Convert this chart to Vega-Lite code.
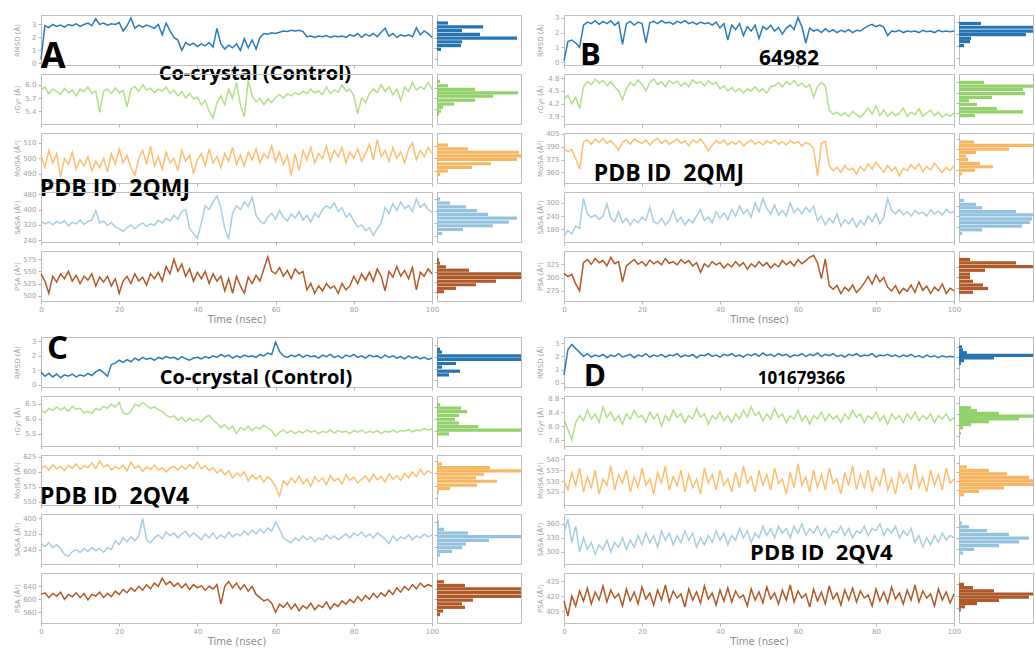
{
"$schema":"https://vega.github.io/schema/vega-lite/v6.json",
"background":"white",
"padding":{"left":12,"top":13,"right":0,"bottom":0},
"config":{
 "view":{"stroke":"#bdbdbd","strokeWidth":1},
 "axis":{"domain":false,"grid":false,"tickColor":"#b5b5b5","tickWidth":1,"labelColor":"#a0a0a0","labelFont":"DejaVu Sans","labelFontSize":7,"titleColor":"#a0a0a0","titleFont":"DejaVu Sans","titleFontSize":7,"titleFontWeight":"normal","labelOverlap":false,"labelFlush":false},
 "axisY":{"tickSize":3,"labelPadding":2,"minExtent":18,"maxExtent":18,"titlePadding":3},
 "axisX":{"tickSize":3,"labelPadding":1,"titlePadding":2},
 "line":{"strokeWidth":1.5}
},
"columns":5,
"spacing":{"row":9,"column":5},
"bounds":"flush",
"align":"each",
"concat":[
{"width":391,"height":50,"encoding":{"x":{"field":"t","type":"quantitative","scale":{"domain":[0,100],"nice":false},"axis":{"values":[0,20,40,60,80,100],"labels":false,"title":null}},"y":{"field":"v","type":"quantitative","scale":{"domain":[-0.13,3.73],"nice":false,"zero":false},"axis":{"values":[0,1,2,3],"title":"RMSD (Å)"}}},
 "layer":[{"data":{"name":"aR"},"mark":{"type":"line","color":"#2b7bba"}},
 {"data":{"values":[{"t":3.1,"v":0.5,"s":"A"}]},"mark":{"type":"text","font":"Open Sans","fontWeight":"bold","fontSize":36,"color":"#000","baseline":"middle"},"encoding":{"text":{"field":"s","type":"nominal"}}},
 {"data":{"values":[{"t":54.7,"v":-0.8,"s":"Co-crystal (Control)"}]},"mark":{"type":"text","font":"Open Sans","fontWeight":"bold","fontSize":20,"color":"#000","baseline":"middle"},"encoding":{"text":{"field":"s","type":"nominal"}}}]},
{"width":84,"height":50,"data":{"name":"aRh"},"mark":{"type":"bar","orient":"horizontal","size":3.2,"color":"#2675b2","clip":true},"encoding":{"y":{"field":"b","type":"quantitative","scale":{"domain":[-0.13,3.73],"nice":false,"zero":false},"axis":{"values":[0,1,2,3],"labels":false,"title":null}},"x":{"field":"c","type":"quantitative","scale":{"domain":[0,84],"nice":false},"axis":null}}},
{"width":33,"height":50,"data":{"values":[]},"mark":"point","view":{"stroke":null}},
{"width":390,"height":50,"encoding":{"x":{"field":"t","type":"quantitative","scale":{"domain":[0,100],"nice":false},"axis":{"values":[0,20,40,60,80,100],"labels":false,"title":null}},"y":{"field":"v","type":"quantitative","scale":{"domain":[-0.18,3.18],"nice":false,"zero":false},"axis":{"values":[0,1,2,3],"title":"RMSD (Å)"}}},
 "layer":[{"data":{"name":"bR"},"mark":{"type":"line","color":"#2b7bba"}},
 {"data":{"values":[{"t":6.8,"v":0.41,"s":"B"}]},"mark":{"type":"text","font":"Open Sans","fontWeight":"bold","fontSize":31,"color":"#000","baseline":"middle"},"encoding":{"text":{"field":"s","type":"nominal"}}},
 {"data":{"values":[{"t":57.7,"v":0.24,"s":"64982"}]},"mark":{"type":"text","font":"Open Sans","fontWeight":"bold","fontSize":21,"color":"#000","baseline":"middle"},"encoding":{"text":{"field":"s","type":"nominal"}}}]},
{"width":74,"height":50,"data":{"name":"bRh"},"mark":{"type":"bar","orient":"horizontal","size":3.2,"color":"#2675b2","clip":true},"encoding":{"y":{"field":"b","type":"quantitative","scale":{"domain":[-0.18,3.18],"nice":false,"zero":false},"axis":{"values":[0,1,2,3],"labels":false,"title":null}},"x":{"field":"c","type":"quantitative","scale":{"domain":[0,74],"nice":false},"axis":null}}},

{"width":391,"height":50,"data":{"name":"aG"},"mark":{"type":"line","color":"#b2df8a"},"encoding":{"x":{"field":"t","type":"quantitative","scale":{"domain":[0,100],"nice":false},"axis":{"values":[0,20,40,60,80,100],"labels":false,"title":null}},"y":{"field":"v","type":"quantitative","scale":{"domain":[5.12,6.24],"nice":false,"zero":false},"axis":{"values":[5.4,5.7,6.0],"format":".1f","title":"rGyr (Å)"}}}},
{"width":84,"height":50,"data":{"name":"aGh"},"mark":{"type":"bar","orient":"horizontal","size":3.2,"color":"#93d16a","clip":true},"encoding":{"y":{"field":"b","type":"quantitative","scale":{"domain":[5.12,6.24],"nice":false,"zero":false},"axis":{"values":[5.4,5.7,6.0],"labels":false,"title":null}},"x":{"field":"c","type":"quantitative","scale":{"domain":[0,84],"nice":false},"axis":null}}},
{"width":33,"height":50,"data":{"values":[]},"mark":"point","view":{"stroke":null}},
{"width":390,"height":50,"data":{"name":"bG"},"mark":{"type":"line","color":"#b2df8a"},"encoding":{"x":{"field":"t","type":"quantitative","scale":{"domain":[0,100],"nice":false},"axis":{"values":[0,20,40,60,80,100],"labels":false,"title":null}},"y":{"field":"v","type":"quantitative","scale":{"domain":[3.72,4.9],"nice":false,"zero":false},"axis":{"values":[3.9,4.2,4.5,4.8],"format":".1f","title":"rGyr (Å)"}}}},
{"width":74,"height":50,"data":{"name":"bGh"},"mark":{"type":"bar","orient":"horizontal","size":3.2,"color":"#93d16a","clip":true},"encoding":{"y":{"field":"b","type":"quantitative","scale":{"domain":[3.72,4.9],"nice":false,"zero":false},"axis":{"values":[3.9,4.2,4.5,4.8],"labels":false,"title":null}},"x":{"field":"c","type":"quantitative","scale":{"domain":[0,74],"nice":false},"axis":null}}},

{"width":391,"height":50,"encoding":{"x":{"field":"t","type":"quantitative","scale":{"domain":[0,100],"nice":false},"axis":{"values":[0,20,40,60,80,100],"labels":false,"title":null}},"y":{"field":"v","type":"quantitative","scale":{"domain":[484,516.3],"nice":false,"zero":false},"axis":{"values":[490,500,510],"title":"MolSA (Å²)"}}},
 "layer":[{"data":{"name":"aM"},"mark":{"type":"line","color":"#fdbf6f"}},
 {"data":{"values":[{"t":18.9,"v":480.1,"s":"PDB ID\u00a0 2QMJ"}]},"mark":{"type":"text","font":"Open Sans","fontWeight":"bold","fontSize":23,"color":"#000","baseline":"middle"},"encoding":{"text":{"field":"s","type":"nominal"}}}]},
{"width":84,"height":50,"data":{"name":"aMh"},"mark":{"type":"bar","orient":"horizontal","size":3.2,"color":"#f8b660","clip":true},"encoding":{"y":{"field":"b","type":"quantitative","scale":{"domain":[484,516.3],"nice":false,"zero":false},"axis":{"values":[490,500,510],"labels":false,"title":null}},"x":{"field":"c","type":"quantitative","scale":{"domain":[0,84],"nice":false},"axis":null}}},
{"width":33,"height":50,"data":{"values":[]},"mark":"point","view":{"stroke":null}},
{"width":390,"height":50,"encoding":{"x":{"field":"t","type":"quantitative","scale":{"domain":[0,100],"nice":false},"axis":{"values":[0,20,40,60,80,100],"labels":false,"title":null}},"y":{"field":"v","type":"quantitative","scale":{"domain":[347.7,406.1],"nice":false,"zero":false},"axis":{"values":[360,375,390,405],"title":"MolSA (Å²)"}}},
 "layer":[{"data":{"name":"bM"},"mark":{"type":"line","color":"#fdbf6f"}},
 {"data":{"values":[{"t":26.9,"v":357.8,"s":"PDB ID\u00a0 2QMJ"}]},"mark":{"type":"text","font":"Open Sans","fontWeight":"bold","fontSize":23,"color":"#000","baseline":"middle"},"encoding":{"text":{"field":"s","type":"nominal"}}}]},
{"width":74,"height":50,"data":{"name":"bMh"},"mark":{"type":"bar","orient":"horizontal","size":3.2,"color":"#f8b660","clip":true},"encoding":{"y":{"field":"b","type":"quantitative","scale":{"domain":[347.7,406.1],"nice":false,"zero":false},"axis":{"values":[360,375,390,405],"labels":false,"title":null}},"x":{"field":"c","type":"quantitative","scale":{"domain":[0,74],"nice":false},"axis":null}}},

{"width":391,"height":50,"data":{"name":"aS"},"mark":{"type":"line","color":"#a6cee3"},"encoding":{"x":{"field":"t","type":"quantitative","scale":{"domain":[0,100],"nice":false},"axis":{"values":[0,20,40,60,80,100],"labels":false,"title":null}},"y":{"field":"v","type":"quantitative","scale":{"domain":[231,491],"nice":false,"zero":false},"axis":{"values":[240,320,400,480],"title":"SASA (Å²)"}}}},
{"width":84,"height":50,"data":{"name":"aSh"},"mark":{"type":"bar","orient":"horizontal","size":3.2,"color":"#94c3df","clip":true},"encoding":{"y":{"field":"b","type":"quantitative","scale":{"domain":[231,491],"nice":false,"zero":false},"axis":{"values":[240,320,400,480],"labels":false,"title":null}},"x":{"field":"c","type":"quantitative","scale":{"domain":[0,84],"nice":false},"axis":null}}},
{"width":33,"height":50,"data":{"values":[]},"mark":"point","view":{"stroke":null}},
{"width":390,"height":50,"data":{"name":"bS"},"mark":{"type":"line","color":"#a6cee3"},"encoding":{"x":{"field":"t","type":"quantitative","scale":{"domain":[0,100],"nice":false},"axis":{"values":[0,20,40,60,80,100],"labels":false,"title":null}},"y":{"field":"v","type":"quantitative","scale":{"domain":[123,349],"nice":false,"zero":false},"axis":{"values":[180,240,300],"title":"SASA (Å²)"}}}},
{"width":74,"height":50,"data":{"name":"bSh"},"mark":{"type":"bar","orient":"horizontal","size":3.2,"color":"#94c3df","clip":true},"encoding":{"y":{"field":"b","type":"quantitative","scale":{"domain":[123,349],"nice":false,"zero":false},"axis":{"values":[180,240,300],"labels":false,"title":null}},"x":{"field":"c","type":"quantitative","scale":{"domain":[0,74],"nice":false},"axis":null}}},

{"width":391,"height":50,"data":{"name":"aP"},"mark":{"type":"line","color":"#b15928"},"encoding":{"x":{"field":"t","type":"quantitative","scale":{"domain":[0,100],"nice":false},"axis":{"values":[0,20,40,60,80,100],"title":"Time (nsec)","titleFontSize":10,"titleColor":"#8c8c8c"}},"y":{"field":"v","type":"quantitative","scale":{"domain":[489,592],"nice":false,"zero":false},"axis":{"values":[500,525,550,575],"title":"PSA (Å²)"}}}},
{"width":84,"height":50,"data":{"name":"aPh"},"mark":{"type":"bar","orient":"horizontal","size":3.2,"color":"#b05a2a","clip":true},"encoding":{"y":{"field":"b","type":"quantitative","scale":{"domain":[489,592],"nice":false,"zero":false},"axis":{"values":[500,525,550,575],"labels":false,"title":null}},"x":{"field":"c","type":"quantitative","scale":{"domain":[0,84],"nice":false},"axis":null}}},
{"width":33,"height":50,"data":{"values":[]},"mark":"point","view":{"stroke":null}},
{"width":390,"height":50,"data":{"name":"bP"},"mark":{"type":"line","color":"#b15928"},"encoding":{"x":{"field":"t","type":"quantitative","scale":{"domain":[0,100],"nice":false},"axis":{"values":[0,20,40,60,80,100],"title":"Time (nsec)","titleFontSize":10,"titleColor":"#8c8c8c"}},"y":{"field":"v","type":"quantitative","scale":{"domain":[256,350],"nice":false,"zero":false},"axis":{"values":[275,300,325],"title":"PSA (Å²)"}}}},
{"width":74,"height":50,"data":{"name":"bPh"},"mark":{"type":"bar","orient":"horizontal","size":3.2,"color":"#b05a2a","clip":true},"encoding":{"y":{"field":"b","type":"quantitative","scale":{"domain":[256,350],"nice":false,"zero":false},"axis":{"values":[275,300,325],"labels":false,"title":null}},"x":{"field":"c","type":"quantitative","scale":{"domain":[0,74],"nice":false},"axis":null}}},

{"width":391,"height":18,"data":{"values":[]},"mark":"point","view":{"stroke":null}},
{"width":84,"height":18,"data":{"values":[]},"mark":"point","view":{"stroke":null}},
{"width":33,"height":18,"data":{"values":[]},"mark":"point","view":{"stroke":null}},
{"width":390,"height":18,"data":{"values":[]},"mark":"point","view":{"stroke":null}},
{"width":74,"height":18,"data":{"values":[]},"mark":"point","view":{"stroke":null}},

{"width":391,"height":50,"encoding":{"x":{"field":"t","type":"quantitative","scale":{"domain":[0,100],"nice":false},"axis":{"values":[0,20,40,60,80,100],"labels":false,"title":null}},"y":{"field":"v","type":"quantitative","scale":{"domain":[-0.14,3.3],"nice":false,"zero":false},"axis":{"values":[0,1,2,3],"title":"RMSD (Å)"}}},
 "layer":[{"data":{"name":"cR"},"mark":{"type":"line","color":"#2b7bba"}},
 {"data":{"values":[{"t":4.2,"v":2.5,"s":"C"}]},"mark":{"type":"text","font":"Open Sans","fontWeight":"bold","fontSize":33,"color":"#000","baseline":"middle"},"encoding":{"text":{"field":"s","type":"nominal"}}},
 {"data":{"values":[{"t":55,"v":0.49,"s":"Co-crystal (Control)"}]},"mark":{"type":"text","font":"Open Sans","fontWeight":"bold","fontSize":20,"color":"#000","baseline":"middle"},"encoding":{"text":{"field":"s","type":"nominal"}}}]},
{"width":84,"height":50,"data":{"name":"cRh"},"mark":{"type":"bar","orient":"horizontal","size":3.2,"color":"#2675b2","clip":true},"encoding":{"y":{"field":"b","type":"quantitative","scale":{"domain":[-0.14,3.3],"nice":false,"zero":false},"axis":{"values":[0,1,2,3],"labels":false,"title":null}},"x":{"field":"c","type":"quantitative","scale":{"domain":[0,84],"nice":false},"axis":null}}},
{"width":33,"height":50,"data":{"values":[]},"mark":"point","view":{"stroke":null}},
{"width":390,"height":50,"encoding":{"x":{"field":"t","type":"quantitative","scale":{"domain":[0,100],"nice":false},"axis":{"values":[0,20,40,60,80,100],"labels":false,"title":null}},"y":{"field":"v","type":"quantitative","scale":{"domain":[-0.31,3.46],"nice":false,"zero":false},"axis":{"values":[0,1,2,3],"title":"RMSD (Å)"}}},
 "layer":[{"data":{"name":"dR"},"mark":{"type":"line","color":"#2b7bba"}},
 {"data":{"values":[{"t":7.9,"v":0.41,"s":"D"}]},"mark":{"type":"text","font":"Open Sans","fontWeight":"bold","fontSize":30,"color":"#000","baseline":"middle"},"encoding":{"text":{"field":"s","type":"nominal"}}},
 {"data":{"values":[{"t":60.9,"v":0.27,"s":"101679366"}]},"mark":{"type":"text","font":"Open Sans","fontWeight":"bold","fontSize":17,"color":"#000","baseline":"middle"},"encoding":{"text":{"field":"s","type":"nominal"}}}]},
{"width":74,"height":50,"data":{"name":"dRh"},"mark":{"type":"bar","orient":"horizontal","size":3.2,"color":"#2675b2","clip":true},"encoding":{"y":{"field":"b","type":"quantitative","scale":{"domain":[-0.31,3.46],"nice":false,"zero":false},"axis":{"values":[0,1,2,3],"labels":false,"title":null}},"x":{"field":"c","type":"quantitative","scale":{"domain":[0,74],"nice":false},"axis":null}}},

{"width":391,"height":50,"data":{"name":"cG"},"mark":{"type":"line","color":"#b2df8a"},"encoding":{"x":{"field":"t","type":"quantitative","scale":{"domain":[0,100],"nice":false},"axis":{"values":[0,20,40,60,80,100],"labels":false,"title":null}},"y":{"field":"v","type":"quantitative","scale":{"domain":[5.08,6.77],"nice":false,"zero":false},"axis":{"values":[5.5,6.0,6.5],"format":".1f","title":"rGyr (Å)"}}}},
{"width":84,"height":50,"data":{"name":"cGh"},"mark":{"type":"bar","orient":"horizontal","size":3.2,"color":"#93d16a","clip":true},"encoding":{"y":{"field":"b","type":"quantitative","scale":{"domain":[5.08,6.77],"nice":false,"zero":false},"axis":{"values":[5.5,6.0,6.5],"labels":false,"title":null}},"x":{"field":"c","type":"quantitative","scale":{"domain":[0,84],"nice":false},"axis":null}}},
{"width":33,"height":50,"data":{"values":[]},"mark":"point","view":{"stroke":null}},
{"width":390,"height":50,"data":{"name":"dG"},"mark":{"type":"line","color":"#b2df8a"},"encoding":{"x":{"field":"t","type":"quantitative","scale":{"domain":[0,100],"nice":false},"axis":{"values":[0,20,40,60,80,100],"labels":false,"title":null}},"y":{"field":"v","type":"quantitative","scale":{"domain":[7.43,8.86],"nice":false,"zero":false},"axis":{"values":[7.6,8.0,8.4,8.8],"format":".1f","title":"rGyr (Å)"}}}},
{"width":74,"height":50,"data":{"name":"dGh"},"mark":{"type":"bar","orient":"horizontal","size":3.2,"color":"#93d16a","clip":true},"encoding":{"y":{"field":"b","type":"quantitative","scale":{"domain":[7.43,8.86],"nice":false,"zero":false},"axis":{"values":[7.6,8.0,8.4,8.8],"labels":false,"title":null}},"x":{"field":"c","type":"quantitative","scale":{"domain":[0,74],"nice":false},"axis":null}}},

{"width":391,"height":50,"encoding":{"x":{"field":"t","type":"quantitative","scale":{"domain":[0,100],"nice":false},"axis":{"values":[0,20,40,60,80,100],"labels":false,"title":null}},"y":{"field":"v","type":"quantitative","scale":{"domain":[545,628],"nice":false,"zero":false},"axis":{"values":[550,575,600,625],"title":"MolSA (Å²)"}}},
 "layer":[{"data":{"name":"cM"},"mark":{"type":"line","color":"#fdbf6f"}},
 {"data":{"values":[{"t":18.8,"v":558.5,"s":"PDB ID\u00a0 2QV4"}]},"mark":{"type":"text","font":"Open Sans","fontWeight":"bold","fontSize":23,"color":"#000","baseline":"middle"},"encoding":{"text":{"field":"s","type":"nominal"}}}]},
{"width":84,"height":50,"data":{"name":"cMh"},"mark":{"type":"bar","orient":"horizontal","size":3.2,"color":"#f8b660","clip":true},"encoding":{"y":{"field":"b","type":"quantitative","scale":{"domain":[545,628],"nice":false,"zero":false},"axis":{"values":[550,575,600,625],"labels":false,"title":null}},"x":{"field":"c","type":"quantitative","scale":{"domain":[0,84],"nice":false},"axis":null}}},
{"width":33,"height":50,"data":{"values":[]},"mark":"point","view":{"stroke":null}},
{"width":390,"height":50,"data":{"name":"dM"},"mark":{"type":"line","color":"#fdbf6f"},"encoding":{"x":{"field":"t","type":"quantitative","scale":{"domain":[0,100],"nice":false},"axis":{"values":[0,20,40,60,80,100],"labels":false,"title":null}},"y":{"field":"v","type":"quantitative","scale":{"domain":[519,542],"nice":false,"zero":false},"axis":{"values":[525,530,535,540],"title":"MolSA (Å²)"}}}},
{"width":74,"height":50,"data":{"name":"dMh"},"mark":{"type":"bar","orient":"horizontal","size":3.2,"color":"#f8b660","clip":true},"encoding":{"y":{"field":"b","type":"quantitative","scale":{"domain":[519,542],"nice":false,"zero":false},"axis":{"values":[525,530,535,540],"labels":false,"title":null}},"x":{"field":"c","type":"quantitative","scale":{"domain":[0,74],"nice":false},"axis":null}}},

{"width":391,"height":50,"data":{"name":"cS"},"mark":{"type":"line","color":"#a6cee3"},"encoding":{"x":{"field":"t","type":"quantitative","scale":{"domain":[0,100],"nice":false},"axis":{"values":[0,20,40,60,80,100],"labels":false,"title":null}},"y":{"field":"v","type":"quantitative","scale":{"domain":[166,422],"nice":false,"zero":false},"axis":{"values":[240,320,400],"title":"SASA (Å²)"}}}},
{"width":84,"height":50,"data":{"name":"cSh"},"mark":{"type":"bar","orient":"horizontal","size":3.2,"color":"#94c3df","clip":true},"encoding":{"y":{"field":"b","type":"quantitative","scale":{"domain":[166,422],"nice":false,"zero":false},"axis":{"values":[240,320,400],"labels":false,"title":null}},"x":{"field":"c","type":"quantitative","scale":{"domain":[0,84],"nice":false},"axis":null}}},
{"width":33,"height":50,"data":{"values":[]},"mark":"point","view":{"stroke":null}},
{"width":390,"height":50,"encoding":{"x":{"field":"t","type":"quantitative","scale":{"domain":[0,100],"nice":false},"axis":{"values":[0,20,40,60,80,100],"labels":false,"title":null}},"y":{"field":"v","type":"quantitative","scale":{"domain":[274,381],"nice":false,"zero":false},"axis":{"values":[300,330,360],"title":"SASA (Å²)"}}},
 "layer":[{"data":{"name":"dS"},"mark":{"type":"line","color":"#a6cee3"}},
 {"data":{"values":[{"t":66,"v":298,"s":"PDB ID\u00a0 2QV4"}]},"mark":{"type":"text","font":"Open Sans","fontWeight":"bold","fontSize":22,"color":"#000","baseline":"middle"},"encoding":{"text":{"field":"s","type":"nominal"}}}]},
{"width":74,"height":50,"data":{"name":"dSh"},"mark":{"type":"bar","orient":"horizontal","size":3.2,"color":"#94c3df","clip":true},"encoding":{"y":{"field":"b","type":"quantitative","scale":{"domain":[274,381],"nice":false,"zero":false},"axis":{"values":[300,330,360],"labels":false,"title":null}},"x":{"field":"c","type":"quantitative","scale":{"domain":[0,74],"nice":false},"axis":null}}},

{"width":391,"height":50,"data":{"name":"cP"},"mark":{"type":"line","color":"#b15928"},"encoding":{"x":{"field":"t","type":"quantitative","scale":{"domain":[0,100],"nice":false},"axis":{"values":[0,20,40,60,80,100],"title":"Time (nsec)","titleFontSize":10,"titleColor":"#8c8c8c"}},"y":{"field":"v","type":"quantitative","scale":{"domain":[527,681],"nice":false,"zero":false},"axis":{"values":[560,600,640],"title":"PSA (Å²)"}}}},
{"width":84,"height":50,"data":{"name":"cPh"},"mark":{"type":"bar","orient":"horizontal","size":3.2,"color":"#b05a2a","clip":true},"encoding":{"y":{"field":"b","type":"quantitative","scale":{"domain":[527,681],"nice":false,"zero":false},"axis":{"values":[560,600,640],"labels":false,"title":null}},"x":{"field":"c","type":"quantitative","scale":{"domain":[0,84],"nice":false},"axis":null}}},
{"width":33,"height":50,"data":{"values":[]},"mark":"point","view":{"stroke":null}},
{"width":390,"height":50,"data":{"name":"dP"},"mark":{"type":"line","color":"#b15928"},"encoding":{"x":{"field":"t","type":"quantitative","scale":{"domain":[0,100],"nice":false},"axis":{"values":[0,20,40,60,80,100],"title":"Time (nsec)","titleFontSize":10,"titleColor":"#8c8c8c"}},"y":{"field":"v","type":"quantitative","scale":{"domain":[393,443],"nice":false,"zero":false},"axis":{"values":[405,420,435],"title":"PSA (Å²)"}}}},
{"width":74,"height":50,"data":{"name":"dPh"},"mark":{"type":"bar","orient":"horizontal","size":3.2,"color":"#b05a2a","clip":true},"encoding":{"y":{"field":"b","type":"quantitative","scale":{"domain":[393,443],"nice":false,"zero":false},"axis":{"values":[405,420,435],"labels":false,"title":null}},"x":{"field":"c","type":"quantitative","scale":{"domain":[0,74],"nice":false},"axis":null}}}
],
"datasets":{
"aR":[{"t":0,"v":0.3},{"t":1,"v":2.9},{"t":2,"v":2.75},{"t":3,"v":3.0},{"t":4,"v":2.85},{"t":5,"v":2.95},{"t":6,"v":2.8},{"t":7,"v":3.0},{"t":8,"v":2.9},{"t":9,"v":3.05},
{"t":10,"v":2.85},{"t":11,"v":3.0},{"t":12,"v":3.1},{"t":13,"v":2.9},{"t":14,"v":3.45},{"t":15,"v":3.0},{"t":16,"v":3.1},{"t":17,"v":2.95},{"t":18,"v":3.05},{"t":19,"v":3.0},
{"t":20,"v":3.15},{"t":21,"v":2.5},{"t":22,"v":2.9},{"t":23,"v":3.5},{"t":24,"v":2.7},{"t":25,"v":2.95},{"t":26,"v":2.8},{"t":27,"v":2.95},{"t":28,"v":2.85},{"t":29,"v":2.7},
{"t":30,"v":3.0},{"t":31,"v":2.2},{"t":32,"v":3.1},{"t":33,"v":2.5},{"t":34,"v":2.0},{"t":35,"v":1.8},{"t":36,"v":1.0},{"t":37,"v":1.6},{"t":38,"v":1.4},{"t":39,"v":1.55},
{"t":40,"v":1.3},{"t":41,"v":1.5},{"t":42,"v":1.35},{"t":43,"v":1.6},{"t":44,"v":1.25},{"t":45,"v":2.7},{"t":46,"v":1.5},{"t":47,"v":1.1},{"t":48,"v":1.4},{"t":49,"v":1.2},
{"t":50,"v":1.5},{"t":51,"v":1.0},{"t":52,"v":1.9},{"t":53,"v":1.2},{"t":54,"v":1.8},{"t":55,"v":1.1},{"t":56,"v":2.0},{"t":57,"v":2.3},{"t":58,"v":2.25},{"t":59,"v":2.35},
{"t":60,"v":2.3},{"t":61,"v":2.4},{"t":62,"v":2.5},{"t":63,"v":2.45},{"t":64,"v":2.55},{"t":65,"v":2.5},{"t":66,"v":2.55},{"t":67,"v":2.45},{"t":68,"v":2.05},{"t":69,"v":2.1},
{"t":70,"v":2.0},{"t":71,"v":2.1},{"t":72,"v":2.05},{"t":73,"v":2.15},{"t":74,"v":2.0},{"t":75,"v":2.1},{"t":76,"v":2.05},{"t":77,"v":2.1},{"t":78,"v":2.0},{"t":79,"v":2.2},
{"t":80,"v":2.1},{"t":81,"v":2.3},{"t":82,"v":2.0},{"t":83,"v":2.25},{"t":84,"v":2.1},{"t":85,"v":2.3},{"t":86,"v":2.05},{"t":87,"v":2.4},{"t":88,"v":2.7},{"t":89,"v":2.1},
{"t":90,"v":2.3},{"t":91,"v":2.0},{"t":92,"v":2.2},{"t":93,"v":2.1},{"t":94,"v":2.2},{"t":95,"v":2.05},{"t":96,"v":2.75},{"t":97,"v":2.2},{"t":98,"v":2.5},{"t":99,"v":2.3},{"t":100,"v":2.0}],
"aG":[{"t":0,"v":5.88},{"t":1,"v":5.95},{"t":2,"v":5.8},{"t":3,"v":5.9},{"t":4,"v":5.85},{"t":5,"v":5.78},{"t":6,"v":5.92},{"t":7,"v":5.82},{"t":8,"v":5.88},{"t":9,"v":5.75},
{"t":10,"v":5.9},{"t":11,"v":5.84},{"t":12,"v":5.95},{"t":13,"v":5.8},{"t":14,"v":5.86},{"t":15,"v":5.38},{"t":16,"v":5.85},{"t":17,"v":5.9},{"t":18,"v":5.8},{"t":19,"v":5.93},
{"t":20,"v":5.82},{"t":21,"v":5.87},{"t":22,"v":5.5},{"t":23,"v":5.9},{"t":24,"v":5.96},{"t":25,"v":5.85},{"t":26,"v":6.0},{"t":27,"v":5.88},{"t":28,"v":5.92},{"t":29,"v":5.82},
{"t":30,"v":5.9},{"t":31,"v":5.85},{"t":32,"v":5.95},{"t":33,"v":5.8},{"t":34,"v":5.88},{"t":35,"v":5.75},{"t":36,"v":5.85},{"t":37,"v":5.7},{"t":38,"v":5.8},{"t":39,"v":5.68},
{"t":40,"v":5.72},{"t":41,"v":5.55},{"t":42,"v":5.65},{"t":43,"v":5.4},{"t":44,"v":5.25},{"t":45,"v":5.6},{"t":46,"v":5.75},{"t":47,"v":5.55},{"t":48,"v":5.9},{"t":49,"v":5.7},
{"t":50,"v":6.05},{"t":51,"v":5.55},{"t":52,"v":5.28},{"t":53,"v":6.1},{"t":54,"v":5.75},{"t":55,"v":5.62},{"t":56,"v":5.7},{"t":57,"v":5.55},{"t":58,"v":5.68},{"t":59,"v":5.6},
{"t":60,"v":5.72},{"t":61,"v":5.78},{"t":62,"v":5.7},{"t":63,"v":5.8},{"t":64,"v":5.75},{"t":65,"v":5.82},{"t":66,"v":5.78},{"t":67,"v":5.85},{"t":68,"v":5.8},{"t":69,"v":5.9},
{"t":70,"v":5.82},{"t":71,"v":5.86},{"t":72,"v":5.78},{"t":73,"v":5.95},{"t":74,"v":5.8},{"t":75,"v":5.88},{"t":76,"v":5.83},{"t":77,"v":6.0},{"t":78,"v":5.85},{"t":79,"v":5.9},
{"t":80,"v":5.75},{"t":81,"v":5.35},{"t":82,"v":5.7},{"t":83,"v":5.6},{"t":84,"v":5.8},{"t":85,"v":5.9},{"t":86,"v":5.82},{"t":87,"v":6.0},{"t":88,"v":5.85},{"t":89,"v":5.95},
{"t":90,"v":5.78},{"t":91,"v":5.9},{"t":92,"v":5.65},{"t":93,"v":5.95},{"t":94,"v":5.85},{"t":95,"v":6.05},{"t":96,"v":5.88},{"t":97,"v":5.95},{"t":98,"v":5.9},{"t":99,"v":6.05},{"t":100,"v":5.9}],
"aM":[{"t":0,"v":502},{"t":1,"v":494},{"t":2,"v":505},{"t":3,"v":497},{"t":4,"v":503},{"t":5,"v":488},{"t":6,"v":500},{"t":7,"v":496},{"t":8,"v":504},{"t":9,"v":493},
{"t":10,"v":499},{"t":11,"v":495},{"t":12,"v":501},{"t":13,"v":492},{"t":14,"v":498},{"t":15,"v":494},{"t":16,"v":500},{"t":17,"v":491},{"t":18,"v":503},{"t":19,"v":496},
{"t":20,"v":506},{"t":21,"v":497},{"t":22,"v":502},{"t":23,"v":494},{"t":24,"v":489},{"t":25,"v":500},{"t":26,"v":505},{"t":27,"v":496},{"t":28,"v":508},{"t":29,"v":495},
{"t":30,"v":501},{"t":31,"v":493},{"t":32,"v":504},{"t":33,"v":497},{"t":34,"v":500},{"t":35,"v":492},{"t":36,"v":505},{"t":37,"v":498},{"t":38,"v":502},{"t":39,"v":490},
{"t":40,"v":499},{"t":41,"v":503},{"t":42,"v":495},{"t":43,"v":506},{"t":44,"v":497},{"t":45,"v":501},{"t":46,"v":494},{"t":47,"v":503},{"t":48,"v":498},{"t":49,"v":507},
{"t":50,"v":496},{"t":51,"v":502},{"t":52,"v":495},{"t":53,"v":504},{"t":54,"v":499},{"t":55,"v":506},{"t":56,"v":497},{"t":57,"v":503},{"t":58,"v":500},{"t":59,"v":508},
{"t":60,"v":498},{"t":61,"v":504},{"t":62,"v":496},{"t":63,"v":502},{"t":64,"v":489},{"t":65,"v":503},{"t":66,"v":492},{"t":67,"v":505},{"t":68,"v":499},{"t":69,"v":507},
{"t":70,"v":497},{"t":71,"v":503},{"t":72,"v":500},{"t":73,"v":508},{"t":74,"v":498},{"t":75,"v":505},{"t":76,"v":501},{"t":77,"v":507},{"t":78,"v":497},{"t":79,"v":504},
{"t":80,"v":500},{"t":81,"v":506},{"t":82,"v":498},{"t":83,"v":503},{"t":84,"v":509},{"t":85,"v":499},{"t":86,"v":512},{"t":87,"v":501},{"t":88,"v":505},{"t":89,"v":498},
{"t":90,"v":507},{"t":91,"v":500},{"t":92,"v":504},{"t":93,"v":497},{"t":94,"v":506},{"t":95,"v":510},{"t":96,"v":499},{"t":97,"v":505},{"t":98,"v":501},{"t":99,"v":507},{"t":100,"v":503}],
"aS":[{"t":0,"v":340},{"t":1,"v":325},{"t":2,"v":335},{"t":3,"v":320},{"t":4,"v":338},{"t":5,"v":328},{"t":6,"v":342},{"t":7,"v":315},{"t":8,"v":333},{"t":9,"v":325},
{"t":10,"v":345},{"t":11,"v":322},{"t":12,"v":338},{"t":13,"v":345},{"t":14,"v":395},{"t":15,"v":330},{"t":16,"v":340},{"t":17,"v":318},{"t":18,"v":332},{"t":19,"v":310},
{"t":20,"v":300},{"t":21,"v":285},{"t":22,"v":305},{"t":23,"v":320},{"t":24,"v":300},{"t":25,"v":318},{"t":26,"v":330},{"t":27,"v":312},{"t":28,"v":325},{"t":29,"v":318},
{"t":30,"v":345},{"t":31,"v":330},{"t":32,"v":355},{"t":33,"v":340},{"t":34,"v":370},{"t":35,"v":350},{"t":36,"v":390},{"t":37,"v":400},{"t":38,"v":300},{"t":39,"v":275},
{"t":40,"v":250},{"t":41,"v":330},{"t":42,"v":420},{"t":43,"v":400},{"t":44,"v":440},{"t":45,"v":470},{"t":46,"v":410},{"t":47,"v":300},{"t":48,"v":250},{"t":49,"v":380},
{"t":50,"v":420},{"t":51,"v":400},{"t":52,"v":440},{"t":53,"v":415},{"t":54,"v":465},{"t":55,"v":370},{"t":56,"v":340},{"t":57,"v":325},{"t":58,"v":360},{"t":59,"v":380},
{"t":60,"v":350},{"t":61,"v":395},{"t":62,"v":360},{"t":63,"v":340},{"t":64,"v":375},{"t":65,"v":355},{"t":66,"v":390},{"t":67,"v":345},{"t":68,"v":370},{"t":69,"v":335},
{"t":70,"v":380},{"t":71,"v":360},{"t":72,"v":400},{"t":73,"v":420},{"t":74,"v":405},{"t":75,"v":435},{"t":76,"v":390},{"t":77,"v":410},{"t":78,"v":360},{"t":79,"v":380},
{"t":80,"v":340},{"t":81,"v":310},{"t":82,"v":320},{"t":83,"v":290},{"t":84,"v":305},{"t":85,"v":265},{"t":86,"v":300},{"t":87,"v":330},{"t":88,"v":410},{"t":89,"v":380},
{"t":90,"v":430},{"t":91,"v":395},{"t":92,"v":440},{"t":93,"v":405},{"t":94,"v":420},{"t":95,"v":390},{"t":96,"v":455},{"t":97,"v":410},{"t":98,"v":430},{"t":99,"v":400},{"t":100,"v":385}],
"aP":[{"t":0,"v":545},{"t":1,"v":530},{"t":2,"v":505},{"t":3,"v":540},{"t":4,"v":528},{"t":5,"v":545},{"t":6,"v":535},{"t":7,"v":550},{"t":8,"v":530},{"t":9,"v":542},
{"t":10,"v":525},{"t":11,"v":540},{"t":12,"v":532},{"t":13,"v":545},{"t":14,"v":520},{"t":15,"v":538},{"t":16,"v":528},{"t":17,"v":540},{"t":18,"v":520},{"t":19,"v":535},
{"t":20,"v":505},{"t":21,"v":530},{"t":22,"v":540},{"t":23,"v":525},{"t":24,"v":545},{"t":25,"v":530},{"t":26,"v":538},{"t":27,"v":522},{"t":28,"v":545},{"t":29,"v":535},
{"t":30,"v":548},{"t":31,"v":530},{"t":32,"v":560},{"t":33,"v":545},{"t":34,"v":575},{"t":35,"v":550},{"t":36,"v":565},{"t":37,"v":540},{"t":38,"v":555},{"t":39,"v":530},
{"t":40,"v":548},{"t":41,"v":535},{"t":42,"v":550},{"t":43,"v":525},{"t":44,"v":545},{"t":45,"v":530},{"t":46,"v":540},{"t":47,"v":510},{"t":48,"v":535},{"t":49,"v":505},
{"t":50,"v":540},{"t":51,"v":520},{"t":52,"v":505},{"t":53,"v":538},{"t":54,"v":525},{"t":55,"v":542},{"t":56,"v":530},{"t":57,"v":555},{"t":58,"v":580},{"t":59,"v":550},
{"t":60,"v":545},{"t":61,"v":558},{"t":62,"v":540},{"t":63,"v":552},{"t":64,"v":535},{"t":65,"v":555},{"t":66,"v":545},{"t":67,"v":550},{"t":68,"v":512},{"t":69,"v":525},
{"t":70,"v":505},{"t":71,"v":520},{"t":72,"v":510},{"t":73,"v":525},{"t":74,"v":515},{"t":75,"v":520},{"t":76,"v":505},{"t":77,"v":525},{"t":78,"v":512},{"t":79,"v":520},
{"t":80,"v":540},{"t":81,"v":525},{"t":82,"v":545},{"t":83,"v":532},{"t":84,"v":548},{"t":85,"v":530},{"t":86,"v":555},{"t":87,"v":540},{"t":88,"v":510},{"t":89,"v":550},
{"t":90,"v":538},{"t":91,"v":560},{"t":92,"v":540},{"t":93,"v":552},{"t":94,"v":535},{"t":95,"v":558},{"t":96,"v":512},{"t":97,"v":548},{"t":98,"v":540},{"t":99,"v":555},{"t":100,"v":545}],
"bR":[{"t":0,"v":0.1},{"t":1,"v":1.4},{"t":2,"v":1.5},{"t":3,"v":1.3},{"t":4,"v":1.0},{"t":5,"v":2.5},{"t":6,"v":2.7},{"t":7,"v":2.6},{"t":8,"v":2.8},{"t":9,"v":2.55},
{"t":10,"v":2.75},{"t":11,"v":2.6},{"t":12,"v":2.8},{"t":13,"v":2.5},{"t":14,"v":2.7},{"t":15,"v":1.2},{"t":16,"v":2.6},{"t":17,"v":2.75},{"t":18,"v":2.5},{"t":19,"v":2.7},
{"t":20,"v":2.6},{"t":21,"v":1.3},{"t":22,"v":2.65},{"t":23,"v":2.75},{"t":24,"v":2.6},{"t":25,"v":2.8},{"t":26,"v":2.65},{"t":27,"v":2.7},{"t":28,"v":2.55},{"t":29,"v":2.75},
{"t":30,"v":2.65},{"t":31,"v":2.8},{"t":32,"v":2.6},{"t":33,"v":2.7},{"t":34,"v":2.55},{"t":35,"v":2.7},{"t":36,"v":2.6},{"t":37,"v":2.65},{"t":38,"v":2.5},{"t":39,"v":2.7},
{"t":40,"v":2.3},{"t":41,"v":2.6},{"t":42,"v":1.5},{"t":43,"v":2.5},{"t":44,"v":2.2},{"t":45,"v":2.6},{"t":46,"v":1.8},{"t":47,"v":2.4},{"t":48,"v":2.1},{"t":49,"v":2.5},
{"t":50,"v":1.6},{"t":51,"v":2.4},{"t":52,"v":2.2},{"t":53,"v":2.5},{"t":54,"v":2.1},{"t":55,"v":2.35},{"t":56,"v":1.9},{"t":57,"v":2.3},{"t":58,"v":2.5},{"t":59,"v":2.2},
{"t":60,"v":3.0},{"t":61,"v":2.4},{"t":62,"v":1.3},{"t":63,"v":2.3},{"t":64,"v":2.1},{"t":65,"v":2.2},{"t":66,"v":2.0},{"t":67,"v":2.25},{"t":68,"v":2.05},{"t":69,"v":2.2},
{"t":70,"v":2.0},{"t":71,"v":2.15},{"t":72,"v":2.05},{"t":73,"v":2.2},{"t":74,"v":2.0},{"t":75,"v":2.15},{"t":76,"v":2.1},{"t":77,"v":2.3},{"t":78,"v":2.45},{"t":79,"v":2.55},
{"t":80,"v":2.4},{"t":81,"v":2.5},{"t":82,"v":2.35},{"t":83,"v":1.8},{"t":84,"v":2.1},{"t":85,"v":2.05},{"t":86,"v":2.15},{"t":87,"v":2.0},{"t":88,"v":2.1},{"t":89,"v":2.05},
{"t":90,"v":2.1},{"t":91,"v":2.0},{"t":92,"v":2.15},{"t":93,"v":2.05},{"t":94,"v":2.1},{"t":95,"v":2.0},{"t":96,"v":2.15},{"t":97,"v":2.05},{"t":98,"v":2.1},{"t":99,"v":2.05},{"t":100,"v":2.1}],
"bG":[{"t":0,"v":4.3},{"t":1,"v":4.4},{"t":2,"v":4.2},{"t":3,"v":4.35},{"t":4,"v":4.08},{"t":5,"v":4.6},{"t":6,"v":4.72},{"t":7,"v":4.65},{"t":8,"v":4.78},{"t":9,"v":4.68},
{"t":10,"v":4.75},{"t":11,"v":4.62},{"t":12,"v":4.72},{"t":13,"v":4.6},{"t":14,"v":4.5},{"t":15,"v":4.3},{"t":16,"v":4.55},{"t":17,"v":4.7},{"t":18,"v":4.62},{"t":19,"v":4.76},
{"t":20,"v":4.66},{"t":21,"v":4.5},{"t":22,"v":4.7},{"t":23,"v":4.78},{"t":24,"v":4.65},{"t":25,"v":4.72},{"t":26,"v":4.6},{"t":27,"v":4.75},{"t":28,"v":4.67},{"t":29,"v":4.73},
{"t":30,"v":4.62},{"t":31,"v":4.7},{"t":32,"v":4.6},{"t":33,"v":4.76},{"t":34,"v":4.68},{"t":35,"v":4.72},{"t":36,"v":4.62},{"t":37,"v":4.74},{"t":38,"v":4.66},{"t":39,"v":4.7},
{"t":40,"v":4.55},{"t":41,"v":4.62},{"t":42,"v":4.5},{"t":43,"v":4.58},{"t":44,"v":4.48},{"t":45,"v":4.56},{"t":46,"v":4.45},{"t":47,"v":4.55},{"t":48,"v":4.5},{"t":49,"v":4.6},
{"t":50,"v":4.48},{"t":51,"v":4.55},{"t":52,"v":4.45},{"t":53,"v":4.6},{"t":54,"v":4.62},{"t":55,"v":4.7},{"t":56,"v":4.6},{"t":57,"v":4.72},{"t":58,"v":4.65},{"t":59,"v":4.75},
{"t":60,"v":4.62},{"t":61,"v":4.68},{"t":62,"v":4.58},{"t":63,"v":4.65},{"t":64,"v":4.35},{"t":65,"v":4.6},{"t":66,"v":4.7},{"t":67,"v":4.62},{"t":68,"v":4.05},{"t":69,"v":3.95},
{"t":70,"v":4.0},{"t":71,"v":3.92},{"t":72,"v":3.98},{"t":73,"v":3.9},{"t":74,"v":4.02},{"t":75,"v":3.94},{"t":76,"v":3.88},{"t":77,"v":3.98},{"t":78,"v":4.1},{"t":79,"v":3.95},
{"t":80,"v":4.15},{"t":81,"v":3.92},{"t":82,"v":4.05},{"t":83,"v":3.9},{"t":84,"v":4.0},{"t":85,"v":3.92},{"t":86,"v":3.97},{"t":87,"v":4.1},{"t":88,"v":3.9},{"t":89,"v":4.0},
{"t":90,"v":3.94},{"t":91,"v":4.08},{"t":92,"v":3.9},{"t":93,"v":3.98},{"t":94,"v":4.05},{"t":95,"v":3.92},{"t":96,"v":4.0},{"t":97,"v":3.88},{"t":98,"v":3.96},{"t":99,"v":3.9},{"t":100,"v":3.98}],
"bM":[{"t":0,"v":388},{"t":1,"v":384},{"t":2,"v":387},{"t":3,"v":376},{"t":4,"v":364},{"t":5,"v":396},{"t":6,"v":398},{"t":7,"v":393},{"t":8,"v":399},{"t":9,"v":395},
{"t":10,"v":400},{"t":11,"v":394},{"t":12,"v":397},{"t":13,"v":392},{"t":14,"v":386},{"t":15,"v":395},{"t":16,"v":398},{"t":17,"v":393},{"t":18,"v":399},{"t":19,"v":396},
{"t":20,"v":394},{"t":21,"v":398},{"t":22,"v":392},{"t":23,"v":397},{"t":24,"v":400},{"t":25,"v":394},{"t":26,"v":398},{"t":27,"v":393},{"t":28,"v":396},{"t":29,"v":399},
{"t":30,"v":394},{"t":31,"v":397},{"t":32,"v":391},{"t":33,"v":398},{"t":34,"v":395},{"t":35,"v":399},{"t":36,"v":393},{"t":37,"v":385},{"t":38,"v":392},{"t":39,"v":397},
{"t":40,"v":394},{"t":41,"v":398},{"t":42,"v":392},{"t":43,"v":396},{"t":44,"v":393},{"t":45,"v":397},{"t":46,"v":391},{"t":47,"v":395},{"t":48,"v":398},{"t":49,"v":393},
{"t":50,"v":396},{"t":51,"v":392},{"t":52,"v":397},{"t":53,"v":394},{"t":54,"v":398},{"t":55,"v":393},{"t":56,"v":396},{"t":57,"v":392},{"t":58,"v":397},{"t":59,"v":394},
{"t":60,"v":396},{"t":61,"v":391},{"t":62,"v":395},{"t":63,"v":393},{"t":64,"v":388},{"t":65,"v":356},{"t":66,"v":394},{"t":67,"v":396},{"t":68,"v":368},{"t":69,"v":362},
{"t":70,"v":366},{"t":71,"v":360},{"t":72,"v":368},{"t":73,"v":363},{"t":74,"v":365},{"t":75,"v":358},{"t":76,"v":367},{"t":77,"v":362},{"t":78,"v":370},{"t":79,"v":364},
{"t":80,"v":372},{"t":81,"v":366},{"t":82,"v":360},{"t":83,"v":368},{"t":84,"v":362},{"t":85,"v":366},{"t":86,"v":356},{"t":87,"v":365},{"t":88,"v":362},{"t":89,"v":369},
{"t":90,"v":364},{"t":91,"v":370},{"t":92,"v":361},{"t":93,"v":367},{"t":94,"v":363},{"t":95,"v":371},{"t":96,"v":365},{"t":97,"v":360},{"t":98,"v":366},{"t":99,"v":362},{"t":100,"v":368}],
"bS":[{"t":0,"v":150},{"t":1,"v":175},{"t":2,"v":160},{"t":3,"v":195},{"t":4,"v":185},{"t":5,"v":320},{"t":6,"v":250},{"t":7,"v":235},{"t":8,"v":245},{"t":9,"v":225},
{"t":10,"v":240},{"t":11,"v":295},{"t":12,"v":230},{"t":13,"v":215},{"t":14,"v":260},{"t":15,"v":210},{"t":16,"v":230},{"t":17,"v":200},{"t":18,"v":225},{"t":19,"v":210},
{"t":20,"v":235},{"t":21,"v":220},{"t":22,"v":280},{"t":23,"v":215},{"t":24,"v":205},{"t":25,"v":230},{"t":26,"v":200},{"t":27,"v":220},{"t":28,"v":265},{"t":29,"v":215},
{"t":30,"v":235},{"t":31,"v":200},{"t":32,"v":225},{"t":33,"v":210},{"t":34,"v":240},{"t":35,"v":270},{"t":36,"v":220},{"t":37,"v":235},{"t":38,"v":210},{"t":39,"v":260},
{"t":40,"v":230},{"t":41,"v":255},{"t":42,"v":225},{"t":43,"v":270},{"t":44,"v":240},{"t":45,"v":285},{"t":46,"v":250},{"t":47,"v":270},{"t":48,"v":235},{"t":49,"v":300},
{"t":50,"v":260},{"t":51,"v":320},{"t":52,"v":275},{"t":53,"v":250},{"t":54,"v":290},{"t":55,"v":245},{"t":56,"v":265},{"t":57,"v":240},{"t":58,"v":300},{"t":59,"v":255},
{"t":60,"v":275},{"t":61,"v":250},{"t":62,"v":280},{"t":63,"v":260},{"t":64,"v":285},{"t":65,"v":220},{"t":66,"v":240},{"t":67,"v":200},{"t":68,"v":230},{"t":69,"v":210},
{"t":70,"v":250},{"t":71,"v":195},{"t":72,"v":225},{"t":73,"v":205},{"t":74,"v":230},{"t":75,"v":190},{"t":76,"v":220},{"t":77,"v":200},{"t":78,"v":240},{"t":79,"v":215},
{"t":80,"v":250},{"t":81,"v":205},{"t":82,"v":235},{"t":83,"v":320},{"t":84,"v":265},{"t":85,"v":250},{"t":86,"v":270},{"t":87,"v":245},{"t":88,"v":260},{"t":89,"v":240},
{"t":90,"v":265},{"t":91,"v":250},{"t":92,"v":258},{"t":93,"v":240},{"t":94,"v":268},{"t":95,"v":250},{"t":96,"v":262},{"t":97,"v":245},{"t":98,"v":270},{"t":99,"v":255},{"t":100,"v":260}],
"bP":[{"t":0,"v":308},{"t":1,"v":302},{"t":2,"v":306},{"t":3,"v":288},{"t":4,"v":275},{"t":5,"v":328},{"t":6,"v":334},{"t":7,"v":325},{"t":8,"v":336},{"t":9,"v":328},
{"t":10,"v":332},{"t":11,"v":322},{"t":12,"v":338},{"t":13,"v":326},{"t":14,"v":330},{"t":15,"v":292},{"t":16,"v":322},{"t":17,"v":328},{"t":18,"v":334},{"t":19,"v":325},
{"t":20,"v":330},{"t":21,"v":322},{"t":22,"v":333},{"t":23,"v":326},{"t":24,"v":331},{"t":25,"v":324},{"t":26,"v":336},{"t":27,"v":327},{"t":28,"v":330},{"t":29,"v":324},
{"t":30,"v":334},{"t":31,"v":327},{"t":32,"v":332},{"t":33,"v":322},{"t":34,"v":328},{"t":35,"v":310},{"t":36,"v":326},{"t":37,"v":320},{"t":38,"v":330},{"t":39,"v":324},
{"t":40,"v":328},{"t":41,"v":318},{"t":42,"v":326},{"t":43,"v":320},{"t":44,"v":330},{"t":45,"v":322},{"t":46,"v":328},{"t":47,"v":316},{"t":48,"v":326},{"t":49,"v":320},
{"t":50,"v":330},{"t":51,"v":322},{"t":52,"v":328},{"t":53,"v":318},{"t":54,"v":326},{"t":55,"v":320},{"t":56,"v":332},{"t":57,"v":324},{"t":58,"v":330},{"t":59,"v":322},
{"t":60,"v":334},{"t":61,"v":326},{"t":62,"v":332},{"t":63,"v":338},{"t":64,"v":342},{"t":65,"v":328},{"t":66,"v":298},{"t":67,"v":335},{"t":68,"v":285},{"t":69,"v":278},
{"t":70,"v":285},{"t":71,"v":270},{"t":72,"v":282},{"t":73,"v":275},{"t":74,"v":286},{"t":75,"v":272},{"t":76,"v":280},{"t":77,"v":290},{"t":78,"v":302},{"t":79,"v":288},
{"t":80,"v":305},{"t":81,"v":292},{"t":82,"v":300},{"t":83,"v":282},{"t":84,"v":275},{"t":85,"v":285},{"t":86,"v":270},{"t":87,"v":280},{"t":88,"v":274},{"t":89,"v":286},
{"t":90,"v":272},{"t":91,"v":292},{"t":92,"v":276},{"t":93,"v":284},{"t":94,"v":270},{"t":95,"v":282},{"t":96,"v":275},{"t":97,"v":288},{"t":98,"v":270},{"t":99,"v":280},{"t":100,"v":275}],
"cR":[{"t":0,"v":0.9},{"t":1,"v":0.6},{"t":2,"v":0.8},{"t":3,"v":0.55},{"t":4,"v":0.75},{"t":5,"v":0.5},{"t":6,"v":0.7},{"t":7,"v":0.6},{"t":8,"v":0.75},{"t":9,"v":0.55},
{"t":10,"v":0.7},{"t":11,"v":0.6},{"t":12,"v":0.8},{"t":13,"v":0.65},{"t":14,"v":0.9},{"t":15,"v":1.05},{"t":16,"v":0.85},{"t":17,"v":0.6},{"t":18,"v":1.4},{"t":19,"v":1.5},
{"t":20,"v":1.7},{"t":21,"v":1.55},{"t":22,"v":1.75},{"t":23,"v":1.6},{"t":24,"v":1.85},{"t":25,"v":1.7},{"t":26,"v":1.9},{"t":27,"v":1.75},{"t":28,"v":1.85},{"t":29,"v":1.7},
{"t":30,"v":1.9},{"t":31,"v":1.8},{"t":32,"v":1.95},{"t":33,"v":1.85},{"t":34,"v":1.9},{"t":35,"v":1.75},{"t":36,"v":1.95},{"t":37,"v":1.8},{"t":38,"v":1.7},{"t":39,"v":1.85},
{"t":40,"v":1.9},{"t":41,"v":1.8},{"t":42,"v":1.95},{"t":43,"v":1.85},{"t":44,"v":2.0},{"t":45,"v":1.9},{"t":46,"v":2.1},{"t":47,"v":1.95},{"t":48,"v":2.05},{"t":49,"v":1.85},
{"t":50,"v":2.0},{"t":51,"v":1.9},{"t":52,"v":2.05},{"t":53,"v":1.95},{"t":54,"v":2.0},{"t":55,"v":1.9},{"t":56,"v":2.1},{"t":57,"v":2.0},{"t":58,"v":2.2},{"t":59,"v":2.1},
{"t":60,"v":2.95},{"t":61,"v":2.3},{"t":62,"v":2.0},{"t":63,"v":1.9},{"t":64,"v":2.05},{"t":65,"v":1.95},{"t":66,"v":2.1},{"t":67,"v":1.9},{"t":68,"v":2.05},{"t":69,"v":1.95},
{"t":70,"v":2.0},{"t":71,"v":1.85},{"t":72,"v":2.05},{"t":73,"v":1.95},{"t":74,"v":2.1},{"t":75,"v":1.9},{"t":76,"v":2.0},{"t":77,"v":1.85},{"t":78,"v":2.05},{"t":79,"v":1.95},
{"t":80,"v":2.1},{"t":81,"v":1.9},{"t":82,"v":2.0},{"t":83,"v":1.85},{"t":84,"v":2.05},{"t":85,"v":1.95},{"t":86,"v":2.0},{"t":87,"v":1.85},{"t":88,"v":2.05},{"t":89,"v":1.9},
{"t":90,"v":2.0},{"t":91,"v":1.85},{"t":92,"v":1.95},{"t":93,"v":1.8},{"t":94,"v":2.0},{"t":95,"v":1.85},{"t":96,"v":1.95},{"t":97,"v":1.8},{"t":98,"v":1.9},{"t":99,"v":1.75},{"t":100,"v":1.85}],
"cG":[{"t":0,"v":6.3},{"t":1,"v":6.2},{"t":2,"v":6.35},{"t":3,"v":6.28},{"t":4,"v":6.4},{"t":5,"v":6.3},{"t":6,"v":6.38},{"t":7,"v":6.25},{"t":8,"v":6.42},{"t":9,"v":6.32},
{"t":10,"v":6.36},{"t":11,"v":6.2},{"t":12,"v":6.25},{"t":13,"v":6.18},{"t":14,"v":6.35},{"t":15,"v":6.3},{"t":16,"v":6.42},{"t":17,"v":6.35},{"t":18,"v":6.5},{"t":19,"v":6.4},
{"t":20,"v":6.55},{"t":21,"v":6.2},{"t":22,"v":6.15},{"t":23,"v":6.25},{"t":24,"v":6.5},{"t":25,"v":6.42},{"t":26,"v":6.55},{"t":27,"v":6.45},{"t":28,"v":6.35},{"t":29,"v":6.4},
{"t":30,"v":6.3},{"t":31,"v":6.25},{"t":32,"v":6.12},{"t":33,"v":6.05},{"t":34,"v":6.1},{"t":35,"v":5.95},{"t":36,"v":6.05},{"t":37,"v":5.9},{"t":38,"v":6.02},{"t":39,"v":5.92},
{"t":40,"v":6.0},{"t":41,"v":5.9},{"t":42,"v":6.05},{"t":43,"v":6.12},{"t":44,"v":5.95},{"t":45,"v":5.85},{"t":46,"v":5.7},{"t":47,"v":5.8},{"t":48,"v":5.65},{"t":49,"v":5.75},
{"t":50,"v":5.5},{"t":51,"v":5.7},{"t":52,"v":5.62},{"t":53,"v":5.75},{"t":54,"v":5.6},{"t":55,"v":5.72},{"t":56,"v":5.65},{"t":57,"v":5.78},{"t":58,"v":5.68},{"t":59,"v":5.6},
{"t":60,"v":5.4},{"t":61,"v":5.55},{"t":62,"v":5.62},{"t":63,"v":5.52},{"t":64,"v":5.6},{"t":65,"v":5.5},{"t":66,"v":5.58},{"t":67,"v":5.52},{"t":68,"v":5.62},{"t":69,"v":5.55},
{"t":70,"v":5.6},{"t":71,"v":5.5},{"t":72,"v":5.58},{"t":73,"v":5.54},{"t":74,"v":5.62},{"t":75,"v":5.52},{"t":76,"v":5.6},{"t":77,"v":5.55},{"t":78,"v":5.58},{"t":79,"v":5.5},
{"t":80,"v":5.6},{"t":81,"v":5.55},{"t":82,"v":5.62},{"t":83,"v":5.52},{"t":84,"v":5.58},{"t":85,"v":5.54},{"t":86,"v":5.6},{"t":87,"v":5.5},{"t":88,"v":5.58},{"t":89,"v":5.55},
{"t":90,"v":5.62},{"t":91,"v":5.54},{"t":92,"v":5.6},{"t":93,"v":5.58},{"t":94,"v":5.64},{"t":95,"v":5.56},{"t":96,"v":5.62},{"t":97,"v":5.6},{"t":98,"v":5.68},{"t":99,"v":5.62},{"t":100,"v":5.66}],
"cM":[{"t":0,"v":606},{"t":1,"v":610},{"t":2,"v":603},{"t":3,"v":612},{"t":4,"v":605},{"t":5,"v":609},{"t":6,"v":602},{"t":7,"v":611},{"t":8,"v":606},{"t":9,"v":613},
{"t":10,"v":604},{"t":11,"v":610},{"t":12,"v":607},{"t":13,"v":615},{"t":14,"v":605},{"t":15,"v":618},{"t":16,"v":608},{"t":17,"v":612},{"t":18,"v":603},{"t":19,"v":609},
{"t":20,"v":605},{"t":21,"v":611},{"t":22,"v":602},{"t":23,"v":616},{"t":24,"v":606},{"t":25,"v":610},{"t":26,"v":601},{"t":27,"v":608},{"t":28,"v":604},{"t":29,"v":611},
{"t":30,"v":603},{"t":31,"v":607},{"t":32,"v":600},{"t":33,"v":606},{"t":34,"v":609},{"t":35,"v":603},{"t":36,"v":610},{"t":37,"v":604},{"t":38,"v":612},{"t":39,"v":606},
{"t":40,"v":616},{"t":41,"v":605},{"t":42,"v":610},{"t":43,"v":602},{"t":44,"v":607},{"t":45,"v":598},{"t":46,"v":604},{"t":47,"v":595},{"t":48,"v":602},{"t":49,"v":590},
{"t":50,"v":598},{"t":51,"v":593},{"t":52,"v":600},{"t":53,"v":585},{"t":54,"v":595},{"t":55,"v":588},{"t":56,"v":594},{"t":57,"v":583},{"t":58,"v":592},{"t":59,"v":586},
{"t":60,"v":575},{"t":61,"v":560},{"t":62,"v":585},{"t":63,"v":578},{"t":64,"v":590},{"t":65,"v":582},{"t":66,"v":593},{"t":67,"v":580},{"t":68,"v":588},{"t":69,"v":576},
{"t":70,"v":592},{"t":71,"v":584},{"t":72,"v":590},{"t":73,"v":579},{"t":74,"v":594},{"t":75,"v":585},{"t":76,"v":589},{"t":77,"v":580},{"t":78,"v":595},{"t":79,"v":586},
{"t":80,"v":591},{"t":81,"v":582},{"t":82,"v":588},{"t":83,"v":593},{"t":84,"v":584},{"t":85,"v":596},{"t":86,"v":587},{"t":87,"v":592},{"t":88,"v":583},{"t":89,"v":597},
{"t":90,"v":588},{"t":91,"v":594},{"t":92,"v":586},{"t":93,"v":598},{"t":94,"v":590},{"t":95,"v":600},{"t":96,"v":592},{"t":97,"v":604},{"t":98,"v":595},{"t":99,"v":602},{"t":100,"v":598}],
"cS":[{"t":0,"v":270},{"t":1,"v":255},{"t":2,"v":275},{"t":3,"v":250},{"t":4,"v":265},{"t":5,"v":245},{"t":6,"v":215},{"t":7,"v":205},{"t":8,"v":230},{"t":9,"v":240},
{"t":10,"v":225},{"t":11,"v":245},{"t":12,"v":230},{"t":13,"v":250},{"t":14,"v":235},{"t":15,"v":245},{"t":16,"v":225},{"t":17,"v":250},{"t":18,"v":240},{"t":19,"v":285},
{"t":20,"v":265},{"t":21,"v":300},{"t":22,"v":280},{"t":23,"v":305},{"t":24,"v":285},{"t":25,"v":310},{"t":26,"v":400},{"t":27,"v":290},{"t":28,"v":275},{"t":29,"v":300},
{"t":30,"v":315},{"t":31,"v":295},{"t":32,"v":330},{"t":33,"v":310},{"t":34,"v":325},{"t":35,"v":300},{"t":36,"v":320},{"t":37,"v":335},{"t":38,"v":305},{"t":39,"v":325},
{"t":40,"v":310},{"t":41,"v":290},{"t":42,"v":320},{"t":43,"v":300},{"t":44,"v":325},{"t":45,"v":295},{"t":46,"v":315},{"t":47,"v":300},{"t":48,"v":330},{"t":49,"v":305},
{"t":50,"v":320},{"t":51,"v":310},{"t":52,"v":335},{"t":53,"v":315},{"t":54,"v":340},{"t":55,"v":320},{"t":56,"v":345},{"t":57,"v":325},{"t":58,"v":350},{"t":59,"v":335},
{"t":60,"v":380},{"t":61,"v":345},{"t":62,"v":300},{"t":63,"v":285},{"t":64,"v":275},{"t":65,"v":300},{"t":66,"v":285},{"t":67,"v":310},{"t":68,"v":290},{"t":69,"v":305},
{"t":70,"v":280},{"t":71,"v":300},{"t":72,"v":290},{"t":73,"v":315},{"t":74,"v":295},{"t":75,"v":310},{"t":76,"v":290},{"t":77,"v":305},{"t":78,"v":320},{"t":79,"v":300},
{"t":80,"v":325},{"t":81,"v":310},{"t":82,"v":330},{"t":83,"v":305},{"t":84,"v":320},{"t":85,"v":300},{"t":86,"v":325},{"t":87,"v":310},{"t":88,"v":295},{"t":89,"v":270},
{"t":90,"v":310},{"t":91,"v":285},{"t":92,"v":305},{"t":93,"v":295},{"t":94,"v":315},{"t":95,"v":290},{"t":96,"v":310},{"t":97,"v":300},{"t":98,"v":320},{"t":99,"v":305},{"t":100,"v":315}],
"cP":[{"t":0,"v":615},{"t":1,"v":620},{"t":2,"v":605},{"t":3,"v":618},{"t":4,"v":610},{"t":5,"v":622},{"t":6,"v":600},{"t":7,"v":615},{"t":8,"v":608},{"t":9,"v":620},
{"t":10,"v":605},{"t":11,"v":618},{"t":12,"v":598},{"t":13,"v":615},{"t":14,"v":610},{"t":15,"v":622},{"t":16,"v":605},{"t":17,"v":618},{"t":18,"v":608},{"t":19,"v":625},
{"t":20,"v":615},{"t":21,"v":630},{"t":22,"v":620},{"t":23,"v":635},{"t":24,"v":625},{"t":25,"v":640},{"t":26,"v":628},{"t":27,"v":645},{"t":28,"v":632},{"t":29,"v":650},
{"t":30,"v":640},{"t":31,"v":665},{"t":32,"v":645},{"t":33,"v":655},{"t":34,"v":640},{"t":35,"v":650},{"t":36,"v":635},{"t":37,"v":648},{"t":38,"v":630},{"t":39,"v":645},
{"t":40,"v":635},{"t":41,"v":642},{"t":42,"v":628},{"t":43,"v":640},{"t":44,"v":632},{"t":45,"v":645},{"t":46,"v":585},{"t":47,"v":640},{"t":48,"v":655},{"t":49,"v":635},
{"t":50,"v":650},{"t":51,"v":630},{"t":52,"v":645},{"t":53,"v":625},{"t":54,"v":640},{"t":55,"v":615},{"t":56,"v":605},{"t":57,"v":595},{"t":58,"v":600},{"t":59,"v":588},
{"t":60,"v":560},{"t":61,"v":585},{"t":62,"v":575},{"t":63,"v":590},{"t":64,"v":570},{"t":65,"v":585},{"t":66,"v":565},{"t":67,"v":580},{"t":68,"v":572},{"t":69,"v":588},
{"t":70,"v":568},{"t":71,"v":582},{"t":72,"v":575},{"t":73,"v":592},{"t":74,"v":570},{"t":75,"v":586},{"t":76,"v":578},{"t":77,"v":595},{"t":78,"v":585},{"t":79,"v":600},
{"t":80,"v":590},{"t":81,"v":608},{"t":82,"v":595},{"t":83,"v":612},{"t":84,"v":600},{"t":85,"v":618},{"t":86,"v":605},{"t":87,"v":620},{"t":88,"v":610},{"t":89,"v":628},
{"t":90,"v":615},{"t":91,"v":635},{"t":92,"v":622},{"t":93,"v":640},{"t":94,"v":628},{"t":95,"v":645},{"t":96,"v":632},{"t":97,"v":650},{"t":98,"v":638},{"t":99,"v":645},{"t":100,"v":640}],
"dR":[{"t":0,"v":0.6},{"t":1,"v":2.5},{"t":2,"v":2.9},{"t":3,"v":2.6},{"t":4,"v":2.3},{"t":5,"v":2.0},{"t":6,"v":2.2},{"t":7,"v":1.95},{"t":8,"v":2.1},{"t":9,"v":2.0},
{"t":10,"v":2.15},{"t":11,"v":1.9},{"t":12,"v":2.1},{"t":13,"v":2.0},{"t":14,"v":2.2},{"t":15,"v":1.95},{"t":16,"v":2.05},{"t":17,"v":2.15},{"t":18,"v":1.9},{"t":19,"v":2.1},
{"t":20,"v":2.0},{"t":21,"v":2.2},{"t":22,"v":1.95},{"t":23,"v":2.1},{"t":24,"v":2.0},{"t":25,"v":2.15},{"t":26,"v":1.95},{"t":27,"v":2.1},{"t":28,"v":2.05},{"t":29,"v":2.2},
{"t":30,"v":1.95},{"t":31,"v":2.1},{"t":32,"v":2.0},{"t":33,"v":2.15},{"t":34,"v":1.9},{"t":35,"v":2.1},{"t":36,"v":2.05},{"t":37,"v":2.2},{"t":38,"v":2.0},{"t":39,"v":2.1},
{"t":40,"v":1.95},{"t":41,"v":2.15},{"t":42,"v":2.05},{"t":43,"v":2.2},{"t":44,"v":2.0},{"t":45,"v":2.1},{"t":46,"v":1.95},{"t":47,"v":2.15},{"t":48,"v":2.05},{"t":49,"v":2.2},
{"t":50,"v":2.0},{"t":51,"v":2.25},{"t":52,"v":2.05},{"t":53,"v":2.15},{"t":54,"v":2.0},{"t":55,"v":2.2},{"t":56,"v":2.05},{"t":57,"v":2.15},{"t":58,"v":1.95},{"t":59,"v":2.1},
{"t":60,"v":2.05},{"t":61,"v":2.2},{"t":62,"v":2.0},{"t":63,"v":2.15},{"t":64,"v":2.05},{"t":65,"v":2.25},{"t":66,"v":2.0},{"t":67,"v":2.15},{"t":68,"v":2.05},{"t":69,"v":2.2},
{"t":70,"v":2.0},{"t":71,"v":2.1},{"t":72,"v":1.95},{"t":73,"v":2.15},{"t":74,"v":2.05},{"t":75,"v":2.2},{"t":76,"v":2.0},{"t":77,"v":2.1},{"t":78,"v":2.05},{"t":79,"v":2.2},
{"t":80,"v":1.95},{"t":81,"v":2.1},{"t":82,"v":2.05},{"t":83,"v":2.15},{"t":84,"v":2.0},{"t":85,"v":2.1},{"t":86,"v":1.95},{"t":87,"v":2.1},{"t":88,"v":2.0},{"t":89,"v":2.15},
{"t":90,"v":1.95},{"t":91,"v":2.05},{"t":92,"v":1.9},{"t":93,"v":2.1},{"t":94,"v":1.95},{"t":95,"v":2.05},{"t":96,"v":1.9},{"t":97,"v":2.05},{"t":98,"v":1.95},{"t":99,"v":2.0},{"t":100,"v":1.95}],
"dG":[{"t":0,"v":8.2},{"t":1,"v":7.9},{"t":2,"v":7.6},{"t":3,"v":8.1},{"t":4,"v":8.3},{"t":5,"v":8.15},{"t":6,"v":8.45},{"t":7,"v":8.2},{"t":8,"v":8.35},{"t":9,"v":8.1},
{"t":10,"v":8.55},{"t":11,"v":8.25},{"t":12,"v":8.4},{"t":13,"v":8.15},{"t":14,"v":8.3},{"t":15,"v":8.05},{"t":16,"v":8.35},{"t":17,"v":8.2},{"t":18,"v":8.45},{"t":19,"v":8.25},
{"t":20,"v":8.3},{"t":21,"v":8.1},{"t":22,"v":8.4},{"t":23,"v":8.2},{"t":24,"v":8.35},{"t":25,"v":8.0},{"t":26,"v":8.3},{"t":27,"v":8.15},{"t":28,"v":8.45},{"t":29,"v":8.25},
{"t":30,"v":8.35},{"t":31,"v":8.1},{"t":32,"v":8.3},{"t":33,"v":8.2},{"t":34,"v":8.5},{"t":35,"v":8.25},{"t":36,"v":8.35},{"t":37,"v":8.05},{"t":38,"v":8.3},{"t":39,"v":8.2},
{"t":40,"v":8.4},{"t":41,"v":8.15},{"t":42,"v":8.3},{"t":43,"v":8.1},{"t":44,"v":8.35},{"t":45,"v":8.2},{"t":46,"v":8.45},{"t":47,"v":8.25},{"t":48,"v":8.55},{"t":49,"v":8.3},
{"t":50,"v":8.4},{"t":51,"v":8.15},{"t":52,"v":8.35},{"t":53,"v":8.2},{"t":54,"v":8.5},{"t":55,"v":8.25},{"t":56,"v":8.35},{"t":57,"v":8.1},{"t":58,"v":8.3},{"t":59,"v":8.2},
{"t":60,"v":8.45},{"t":61,"v":8.15},{"t":62,"v":8.3},{"t":63,"v":8.05},{"t":64,"v":8.3},{"t":65,"v":8.2},{"t":66,"v":8.4},{"t":67,"v":8.15},{"t":68,"v":8.35},{"t":69,"v":8.2},
{"t":70,"v":8.3},{"t":71,"v":8.1},{"t":72,"v":8.35},{"t":73,"v":8.2},{"t":74,"v":8.45},{"t":75,"v":8.25},{"t":76,"v":8.35},{"t":77,"v":8.1},{"t":78,"v":8.3},{"t":79,"v":8.2},
{"t":80,"v":8.4},{"t":81,"v":8.15},{"t":82,"v":8.3},{"t":83,"v":8.05},{"t":84,"v":8.35},{"t":85,"v":8.2},{"t":86,"v":8.3},{"t":87,"v":8.1},{"t":88,"v":8.35},{"t":89,"v":8.2},
{"t":90,"v":8.4},{"t":91,"v":8.15},{"t":92,"v":8.3},{"t":93,"v":8.2},{"t":94,"v":8.35},{"t":95,"v":8.1},{"t":96,"v":8.3},{"t":97,"v":8.2},{"t":98,"v":8.35},{"t":99,"v":8.15},{"t":100,"v":8.25}],
"dM":[{"t":0,"v":530},{"t":1,"v":526},{"t":2,"v":534},{"t":3,"v":528},{"t":4,"v":536},{"t":5,"v":525},{"t":6,"v":532},{"t":7,"v":527},{"t":8,"v":535},{"t":9,"v":524},
{"t":10,"v":531},{"t":11,"v":528},{"t":12,"v":537},{"t":13,"v":526},{"t":14,"v":533},{"t":15,"v":529},{"t":16,"v":535},{"t":17,"v":525},{"t":18,"v":532},{"t":19,"v":527},
{"t":20,"v":536},{"t":21,"v":528},{"t":22,"v":531},{"t":23,"v":524},{"t":24,"v":534},{"t":25,"v":529},{"t":26,"v":537},{"t":27,"v":526},{"t":28,"v":532},{"t":29,"v":528},
{"t":30,"v":535},{"t":31,"v":525},{"t":32,"v":533},{"t":33,"v":527},{"t":34,"v":531},{"t":35,"v":524},{"t":36,"v":536},{"t":37,"v":529},{"t":38,"v":533},{"t":39,"v":526},
{"t":40,"v":535},{"t":41,"v":528},{"t":42,"v":531},{"t":43,"v":525},{"t":44,"v":534},{"t":45,"v":527},{"t":46,"v":537},{"t":47,"v":529},{"t":48,"v":532},{"t":49,"v":525},
{"t":50,"v":535},{"t":51,"v":528},{"t":52,"v":533},{"t":53,"v":526},{"t":54,"v":536},{"t":55,"v":529},{"t":56,"v":531},{"t":57,"v":524},{"t":58,"v":534},{"t":59,"v":527},
{"t":60,"v":538},{"t":61,"v":528},{"t":62,"v":532},{"t":63,"v":525},{"t":64,"v":535},{"t":65,"v":527},{"t":66,"v":533},{"t":67,"v":526},{"t":68,"v":536},{"t":69,"v":529},
{"t":70,"v":531},{"t":71,"v":524},{"t":72,"v":534},{"t":73,"v":528},{"t":74,"v":537},{"t":75,"v":526},{"t":76,"v":533},{"t":77,"v":527},{"t":78,"v":535},{"t":79,"v":525},
{"t":80,"v":532},{"t":81,"v":528},{"t":82,"v":536},{"t":83,"v":526},{"t":84,"v":531},{"t":85,"v":524},{"t":86,"v":534},{"t":87,"v":529},{"t":88,"v":533},{"t":89,"v":526},
{"t":90,"v":538},{"t":91,"v":527},{"t":92,"v":532},{"t":93,"v":525},{"t":94,"v":535},{"t":95,"v":528},{"t":96,"v":533},{"t":97,"v":526},{"t":98,"v":536},{"t":99,"v":529},{"t":100,"v":531}],
"dS":[{"t":0,"v":340},{"t":1,"v":370},{"t":2,"v":320},{"t":3,"v":355},{"t":4,"v":300},{"t":5,"v":330},{"t":6,"v":305},{"t":7,"v":320},{"t":8,"v":295},{"t":9,"v":315},
{"t":10,"v":305},{"t":11,"v":325},{"t":12,"v":300},{"t":13,"v":320},{"t":14,"v":310},{"t":15,"v":330},{"t":16,"v":305},{"t":17,"v":325},{"t":18,"v":310},{"t":19,"v":335},
{"t":20,"v":315},{"t":21,"v":340},{"t":22,"v":320},{"t":23,"v":335},{"t":24,"v":310},{"t":25,"v":345},{"t":26,"v":325},{"t":27,"v":340},{"t":28,"v":315},{"t":29,"v":335},
{"t":30,"v":320},{"t":31,"v":345},{"t":32,"v":325},{"t":33,"v":340},{"t":34,"v":310},{"t":35,"v":330},{"t":36,"v":315},{"t":37,"v":335},{"t":38,"v":320},{"t":39,"v":345},
{"t":40,"v":325},{"t":41,"v":340},{"t":42,"v":315},{"t":43,"v":335},{"t":44,"v":325},{"t":45,"v":350},{"t":46,"v":330},{"t":47,"v":345},{"t":48,"v":320},{"t":49,"v":340},
{"t":50,"v":330},{"t":51,"v":355},{"t":52,"v":335},{"t":53,"v":350},{"t":54,"v":330},{"t":55,"v":355},{"t":56,"v":340},{"t":57,"v":350},{"t":58,"v":330},{"t":59,"v":355},
{"t":60,"v":340},{"t":61,"v":360},{"t":62,"v":335},{"t":63,"v":350},{"t":64,"v":340},{"t":65,"v":355},{"t":66,"v":335},{"t":67,"v":350},{"t":68,"v":330},{"t":69,"v":345},
{"t":70,"v":340},{"t":71,"v":355},{"t":72,"v":335},{"t":73,"v":350},{"t":74,"v":330},{"t":75,"v":345},{"t":76,"v":340},{"t":77,"v":355},{"t":78,"v":335},{"t":79,"v":350},
{"t":80,"v":345},{"t":81,"v":360},{"t":82,"v":335},{"t":83,"v":350},{"t":84,"v":340},{"t":85,"v":355},{"t":86,"v":330},{"t":87,"v":345},{"t":88,"v":335},{"t":89,"v":350},
{"t":90,"v":320},{"t":91,"v":335},{"t":92,"v":310},{"t":93,"v":330},{"t":94,"v":315},{"t":95,"v":335},{"t":96,"v":320},{"t":97,"v":340},{"t":98,"v":325},{"t":99,"v":335},{"t":100,"v":330}],
"dP":[{"t":0,"v":415},{"t":1,"v":400},{"t":2,"v":420},{"t":3,"v":410},{"t":4,"v":425},{"t":5,"v":415},{"t":6,"v":428},{"t":7,"v":412},{"t":8,"v":424},{"t":9,"v":416},
{"t":10,"v":430},{"t":11,"v":414},{"t":12,"v":426},{"t":13,"v":418},{"t":14,"v":422},{"t":15,"v":410},{"t":16,"v":427},{"t":17,"v":415},{"t":18,"v":424},{"t":19,"v":412},
{"t":20,"v":429},{"t":21,"v":417},{"t":22,"v":423},{"t":23,"v":411},{"t":24,"v":426},{"t":25,"v":416},{"t":26,"v":431},{"t":27,"v":414},{"t":28,"v":425},{"t":29,"v":418},
{"t":30,"v":422},{"t":31,"v":409},{"t":32,"v":427},{"t":33,"v":416},{"t":34,"v":424},{"t":35,"v":413},{"t":36,"v":430},{"t":37,"v":417},{"t":38,"v":423},{"t":39,"v":411},
{"t":40,"v":426},{"t":41,"v":415},{"t":42,"v":428},{"t":43,"v":414},{"t":44,"v":425},{"t":45,"v":418},{"t":46,"v":421},{"t":47,"v":410},{"t":48,"v":427},{"t":49,"v":416},
{"t":50,"v":424},{"t":51,"v":413},{"t":52,"v":429},{"t":53,"v":417},{"t":54,"v":423},{"t":55,"v":412},{"t":56,"v":426},{"t":57,"v":416},{"t":58,"v":431},{"t":59,"v":414},
{"t":60,"v":425},{"t":61,"v":418},{"t":62,"v":422},{"t":63,"v":409},{"t":64,"v":427},{"t":65,"v":415},{"t":66,"v":424},{"t":67,"v":412},{"t":68,"v":430},{"t":69,"v":417},
{"t":70,"v":423},{"t":71,"v":411},{"t":72,"v":426},{"t":73,"v":416},{"t":74,"v":428},{"t":75,"v":414},{"t":76,"v":425},{"t":77,"v":418},{"t":78,"v":421},{"t":79,"v":410},
{"t":80,"v":427},{"t":81,"v":415},{"t":82,"v":424},{"t":83,"v":413},{"t":84,"v":429},{"t":85,"v":417},{"t":86,"v":423},{"t":87,"v":412},{"t":88,"v":426},{"t":89,"v":416},
{"t":90,"v":431},{"t":91,"v":414},{"t":92,"v":425},{"t":93,"v":418},{"t":94,"v":422},{"t":95,"v":410},{"t":96,"v":427},{"t":97,"v":416},{"t":98,"v":424},{"t":99,"v":413},{"t":100,"v":422}],
"aRh":[{"b":3.44,"c":11},{"b":3.07,"c":46},{"b":2.71,"c":25},{"b":2.34,"c":43},{"b":1.98,"c":80},{"b":1.62,"c":25},{"b":1.26,"c":24},{"b":0.9,"c":4}],
"aGh":[{"b":6.17,"c":3},{"b":6.05,"c":11},{"b":5.95,"c":38},{"b":5.85,"c":81},{"b":5.76,"c":56},{"b":5.65,"c":38},{"b":5.54,"c":17},{"b":5.45,"c":6},{"b":5.34,"c":4},{"b":5.25,"c":2}],
"aMh":[{"b":510.6,"c":11},{"b":507.5,"c":31},{"b":504.8,"c":82},{"b":501.9,"c":84},{"b":499.0,"c":80},{"b":495.5,"c":54},{"b":492.5,"c":35},{"b":489.7,"c":11},{"b":486.9,"c":3}],
"aSh":[{"b":478,"c":3},{"b":452,"c":13},{"b":427,"c":29},{"b":402,"c":40},{"b":378,"c":51},{"b":354,"c":80},{"b":328,"c":72},{"b":304,"c":56},{"b":280,"c":26},{"b":254,"c":5}],
"aPh":[{"b":582,"c":2},{"b":573.4,"c":3},{"b":564,"c":9},{"b":555.4,"c":32},{"b":546,"c":84},{"b":536.8,"c":84},{"b":527.4,"c":59},{"b":518,"c":39},{"b":508.8,"c":19},{"b":500,"c":7}],
"bRh":[{"b":2.89,"c":22},{"b":2.57,"c":85},{"b":2.24,"c":90},{"b":1.95,"c":67},{"b":1.64,"c":12},{"b":1.36,"c":11},{"b":1.03,"c":5}],
"bGh":[{"b":4.8,"c":25},{"b":4.69,"c":90},{"b":4.59,"c":64},{"b":4.47,"c":66},{"b":4.36,"c":33},{"b":4.26,"c":10},{"b":4.15,"c":18},{"b":4.03,"c":38},{"b":3.93,"c":64},{"b":3.82,"c":16}],
"bMh":[{"b":400.3,"c":15},{"b":395.4,"c":90},{"b":390,"c":50},{"b":385.1,"c":17},{"b":379.7,"c":7},{"b":374.4,"c":9},{"b":369,"c":21},{"b":364.1,"c":34},{"b":359.1,"c":16},{"b":353.8,"c":3}],
"bSh":[{"b":329.9,"c":5},{"b":307.4,"c":17},{"b":288.1,"c":23},{"b":267,"c":57},{"b":247.6,"c":90},{"b":225.2,"c":73},{"b":205.8,"c":71},{"b":184.7,"c":63},{"b":163.6,"c":23},{"b":142.9,"c":3}],
"bPh":[{"b":341.9,"c":11},{"b":333.8,"c":57},{"b":325,"c":90},{"b":316.4,"c":26},{"b":307.5,"c":11},{"b":299.4,"c":11},{"b":290.6,"c":14},{"b":281.8,"c":24},{"b":273.7,"c":29},{"b":264.8,"c":14}],
"cRh":[{"b":2.68,"c":3},{"b":2.43,"c":5},{"b":2.1,"c":84},{"b":1.8,"c":84},{"b":1.45,"c":19},{"b":1.14,"c":5},{"b":0.79,"c":23},{"b":0.47,"c":12}],
"cGh":[{"b":6.61,"c":3},{"b":6.47,"c":24},{"b":6.32,"c":30},{"b":6.16,"c":22},{"b":6.0,"c":18},{"b":5.84,"c":22},{"b":5.69,"c":41},{"b":5.54,"c":84},{"b":5.38,"c":12}],
"cMh":[{"b":619.8,"c":5},{"b":612.3,"c":53},{"b":605.3,"c":84},{"b":598.4,"c":47},{"b":590.8,"c":39},{"b":583.9,"c":60},{"b":575.8,"c":40},{"b":568.7,"c":13},{"b":561.8,"c":2}],
"cSh":[{"b":402.8,"c":2},{"b":379.3,"c":2},{"b":355.8,"c":7},{"b":332.3,"c":31},{"b":308.8,"c":84},{"b":285.2,"c":52},{"b":261.7,"c":29},{"b":238.2,"c":25},{"b":214.7,"c":15},{"b":191.2,"c":3}],
"cPh":[{"b":666.5,"c":7},{"b":652.3,"c":28},{"b":638.8,"c":84},{"b":624.6,"c":84},{"b":610.2,"c":84},{"b":595.7,"c":36},{"b":581.5,"c":25},{"b":568,"c":28},{"b":553.8,"c":6},{"b":540.3,"c":3}],
"dRh":[{"b":3.0,"c":3},{"b":2.7,"c":4},{"b":2.45,"c":8},{"b":2.2,"c":90},{"b":1.95,"c":35},{"b":1.7,"c":5},{"b":1.45,"c":2}],
"dGh":[{"b":8.62,"c":12},{"b":8.52,"c":18},{"b":8.42,"c":40},{"b":8.32,"c":84},{"b":8.22,"c":60},{"b":8.12,"c":30},{"b":8.02,"c":12},{"b":7.9,"c":4},{"b":7.7,"c":2}],
"dMh":[{"b":538,"c":8},{"b":536,"c":30},{"b":534,"c":48},{"b":532,"c":70},{"b":530,"c":84},{"b":528,"c":75},{"b":526,"c":45},{"b":524,"c":20},{"b":522,"c":5}],
"dSh":[{"b":370,"c":3},{"b":360,"c":10},{"b":350,"c":28},{"b":340,"c":50},{"b":330,"c":70},{"b":320,"c":60},{"b":310,"c":40},{"b":300,"c":15},{"b":290,"c":4}],
"dPh":[{"b":435,"c":5},{"b":431,"c":14},{"b":427,"c":35},{"b":423,"c":84},{"b":419,"c":70},{"b":415,"c":40},{"b":411,"c":18},{"b":407,"c":6},{"b":403,"c":2}]
}
}
